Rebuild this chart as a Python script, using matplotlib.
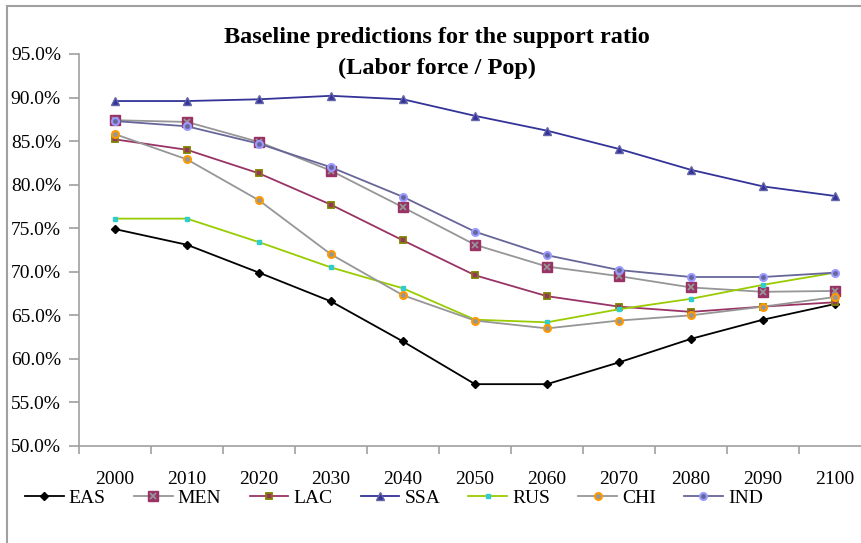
import matplotlib
matplotlib.use("Agg")
from matplotlib import pyplot as plt
from matplotlib.patches import Rectangle
from matplotlib.legend_handler import HandlerTuple
from matplotlib.ticker import PercentFormatter

plt.rcParams["font.family"] = ["Liberation Serif", "DejaVu Serif"]

years = ["2000", "2010", "2020", "2030", "2040", "2050", "2060", "2070", "2080", "2090", "2100"]

eas = [74.9, 73.1, 69.9, 66.6, 62.0, 57.1, 57.1, 59.6, 62.3, 64.5, 66.3]
men = [87.4, 87.2, 84.9, 81.6, 77.4, 73.1, 70.6, 69.5, 68.2, 67.7, 67.8]
lac = [85.2, 84.0, 81.3, 77.7, 73.6, 69.6, 67.2, 66.0, 65.4, 66.0, 66.5]
ssa = [89.6, 89.6, 89.8, 90.2, 89.8, 87.9, 86.2, 84.1, 81.7, 79.8, 78.7]
rus = [76.1, 76.1, 73.4, 70.5, 68.1, 64.5, 64.2, 65.7, 66.9, 68.5, 69.9]
chi = [85.8, 82.9, 78.2, 72.0, 67.3, 64.4, 63.5, 64.4, 65.0, 66.0, 67.1]
ind = [87.3, 86.7, 84.7, 82.0, 78.6, 74.6, 71.9, 70.2, 69.4, 69.4, 69.9]

W, H = 862, 543
fig = plt.figure(figsize=(W / 100, H / 100), dpi=100)

# outer frame (partly cut off, as in the reference)
fig.patches.append(Rectangle((7 / W, -0.1), 1.2, 1 - 6 / H + 0.1, transform=fig.transFigure,
                             fill=False, edgecolor="#a0a0a0", linewidth=1.5))

ax = fig.add_axes([79 / W, 1 - 446 / H, 792 / W, 392 / H])
x = list(range(len(years)))

h_eas, = ax.plot(x, eas, color="black", lw=1.3, marker="D", ms=4.5, mfc="black", mec="black")
h_men, = ax.plot(x, men, color="#969696", lw=1.3, marker="s", ms=7.5, mfc="#993366", mec="#993366")
h_men2, = ax.plot(x, men, ls="none", marker="x", ms=5, mew=1.3, color="#969696")
h_lac, = ax.plot(x, lac, color="#993366", lw=1.3, marker="s", ms=4.5, mfc="#993366", mec="#808000", mew=1.3)
h_ssa, = ax.plot(x, ssa, color="#333399", lw=1.3, marker="^", ms=5.5, mfc="#333399", mec="#6666aa")
h_rus, = ax.plot(x, rus, color="#99cc00", lw=1.3, marker="s", ms=3.5, mfc="#33cccc", mec="#33cccc")
h_chi, = ax.plot(x, chi, color="#969696", lw=1.3, marker="o", ms=5, mfc="#969696", mec="#ff9900", mew=1.5)
h_ind, = ax.plot(x, ind, color="#666699", lw=1.3, marker="o", ms=5, mfc="#666699", mec="#9999ff", mew=1.5)

ax.set_xlim(-0.5, len(years) - 0.5)
ax.set_ylim(50, 95)
ax.set_yticks(range(50, 96, 5))
ax.yaxis.set_major_formatter(PercentFormatter(decimals=1))
ax.set_xticks(x)
ax.set_xticklabels(years)
ax.set_xticks([i - 0.5 for i in range(len(years) + 1)], minor=True)

for s in ["top", "right"]:
    ax.spines[s].set_visible(False)
for s in ["left", "bottom"]:
    ax.spines[s].set_color("#a0a0a0")
    ax.spines[s].set_linewidth(1.2)

ax.tick_params(axis="y", direction="out", length=7, width=1.2, color="#a0a0a0",
               labelsize=14, pad=6)
ax.tick_params(axis="x", which="major", length=0, labelsize=14, pad=18)
ax.tick_params(axis="x", which="minor", direction="out", length=6, width=1.2, color="#a0a0a0")

fig.text(437 / W, 1 - 43 / H, "Baseline predictions for the support ratio",
         ha="center", va="baseline", fontsize=17.5, fontweight="bold")
fig.text(437 / W, 1 - 74 / H, "(Labor force / Pop)",
         ha="center", va="baseline", fontsize=17.5, fontweight="bold")

handles = [h_eas, (h_men, h_men2), h_lac, h_ssa, h_rus, h_chi, h_ind]
labels = ["EAS", "MEN", "LAC", "SSA", "RUS", "CHI", "IND"]
fig.legend(handles, labels, loc="center left", bbox_to_anchor=(25 / W, 1 - 498 / H),
           ncol=7, frameon=False, fontsize=14, handlelength=2.0, handletextpad=0.25,
           columnspacing=1.45, borderpad=0, borderaxespad=0,
           handler_map={tuple: HandlerTuple(ndivide=1)})

fig.savefig("out.png", dpi=100)
